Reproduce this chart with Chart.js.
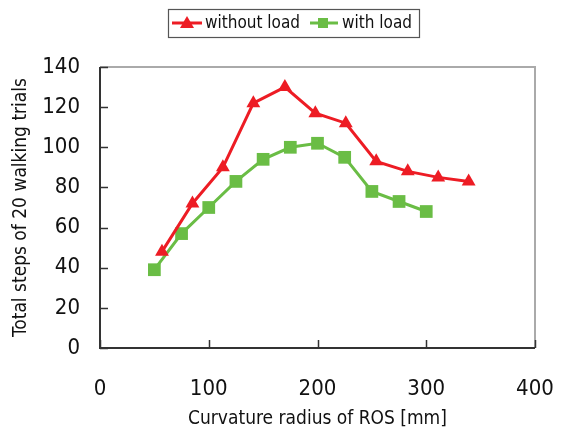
<!DOCTYPE html>
<html>
<head>
<meta charset="utf-8">
<script src="https://cdn.jsdelivr.net/npm/chart.js@4/dist/chart.umd.min.js"></script>
<style>
html,body{margin:0;padding:0;background:#fff;}
#wrap{width:565px;height:434px;position:relative;}
</style>
</head>
<body>
<div id="wrap"><canvas id="c" width="565" height="434"></canvas></div>
<script>
// ---- data ----
const radiusWithout = [57, 85, 113, 141, 170, 198, 226, 254, 283, 311, 339];
const stepsWithout  = [48, 72, 90, 122, 130, 117, 112, 93, 88, 85, 83];
const radiusWith    = [50, 75, 100, 125, 150, 175, 200, 225, 250, 275, 300];
const stepsWith     = [39, 57, 70, 83, 94, 100, 102, 95, 78, 73, 68];
const seriesNames   = ["without load", "with load"];
const xTicks = [0, 100, 200, 300, 400];
const yTicks = [0, 20, 40, 60, 80, 100, 120, 140];
const xTitle = "Curvature radius of ROS [mm]";
const yTitle = "Total steps of 20 walking trials";

const RED = "#ed1c24", GREEN = "#6abd45";
const FONT = "'DejaVu Sans Condensed', 'DejaVu Sans', sans-serif";

const toXY = (xs, ys) => xs.map((x, i) => ({x: x, y: ys[i]}));

const frame = {
  id: 'frame',
  afterDraw(chart) {
    const ctx = chart.ctx, a = chart.chartArea;
    const xs = chart.scales.x, ys = chart.scales.y;
    ctx.save();
    ctx.strokeStyle = '#aaaaaa'; ctx.lineWidth = 2;
    ctx.beginPath();
    ctx.moveTo(a.left, a.top); ctx.lineTo(a.right, a.top); ctx.lineTo(a.right, a.bottom);
    ctx.stroke();
    ctx.strokeStyle = '#333333'; ctx.lineWidth = 2;
    ctx.beginPath();
    ctx.moveTo(a.left, a.top); ctx.lineTo(a.left, a.bottom); ctx.lineTo(a.right, a.bottom);
    ctx.stroke();
    ctx.lineWidth = 1.5;
    yTicks.forEach(v => {
      const p = Math.round(ys.getPixelForValue(v)) + 0.5;
      ctx.beginPath(); ctx.moveTo(a.left, p); ctx.lineTo(a.left + 8, p); ctx.stroke();
    });
    xTicks.forEach(v => {
      const p = Math.round(xs.getPixelForValue(v)) + 0.5;
      ctx.beginPath(); ctx.moveTo(p, a.bottom); ctx.lineTo(p, a.bottom - 8); ctx.stroke();
    });
    // legend
    const bx = 168, by = 9, bw = 251, bh = 28, cy = by + bh / 2;
    ctx.strokeStyle = '#555'; ctx.lineWidth = 1.2;
    ctx.strokeRect(bx + 0.5, by + 0.5, bw, bh);
    ctx.font = "17px " + FONT; ctx.textBaseline = 'middle';
    ctx.strokeStyle = RED; ctx.lineWidth = 3;
    ctx.beginPath(); ctx.moveTo(172, cy); ctx.lineTo(202, cy); ctx.stroke();
    ctx.fillStyle = RED;
    ctx.beginPath(); ctx.moveTo(187, cy - 7); ctx.lineTo(194, cy + 5); ctx.lineTo(180, cy + 5); ctx.closePath(); ctx.fill();
    ctx.fillStyle = '#111'; ctx.fillText(seriesNames[0], 205, cy + 1);
    ctx.strokeStyle = GREEN; ctx.lineWidth = 3;
    ctx.beginPath(); ctx.moveTo(310, cy); ctx.lineTo(338, cy); ctx.stroke();
    ctx.fillStyle = GREEN; ctx.fillRect(318, cy - 5, 10, 10);
    ctx.fillStyle = '#111'; ctx.fillText(seriesNames[1], 342, cy + 1);
    ctx.restore();
  }
};

new Chart(document.getElementById('c'), {
  type: 'scatter',
  data: {
    datasets: [
      { label: seriesNames[0], data: toXY(radiusWithout, stepsWithout), showLine: true,
        borderColor: RED, backgroundColor: RED, borderWidth: 3,
        pointStyle: 'triangle', pointRadius: 8, pointHoverRadius: 8, pointBorderWidth: 0 },
      { label: seriesNames[1], data: toXY(radiusWith, stepsWith), showLine: true,
        borderColor: GREEN, backgroundColor: GREEN, borderWidth: 3,
        pointStyle: 'rect', pointRadius: 9, pointHoverRadius: 9, pointBorderWidth: 0 }
    ]
  },
  options: {
    responsive: false, animation: false,
    layout: { padding: { top: 67, right: 30, left: 0, bottom: 0 } },
    plugins: { legend: { display: false }, tooltip: { enabled: false } },
    scales: {
      x: {
        type: 'linear', min: 0, max: 400,
        afterBuildTicks: s => { s.ticks = xTicks.map(v => ({value: v})); },
        afterFit: s => { s.height = 86; s.paddingLeft = 0; s.paddingRight = 0; },
        grid: { display: false }, border: { display: false },
        ticks: { color: '#111', font: { family: FONT, size: 22 }, padding: 20 },
        title: { display: true, text: xTitle, color: '#111', font: { family: FONT, size: 19 }, padding: { top: 6 } }
      },
      y: {
        min: 0, max: 140,
        afterBuildTicks: s => { s.ticks = yTicks.map(v => ({value: v})); },
        afterFit: s => { s.width = 100; s.paddingTop = 0; s.paddingBottom = 0; },
        grid: { display: false }, border: { display: false },
        ticks: { color: '#111', font: { family: FONT, size: 22 }, padding: 12 },
        title: { display: true, text: yTitle, color: '#111', font: { family: FONT, size: 19 }, padding: { top: 10, bottom: 4 } }
      }
    }
  },
  plugins: [frame]
});
</script>
</body>
</html>
